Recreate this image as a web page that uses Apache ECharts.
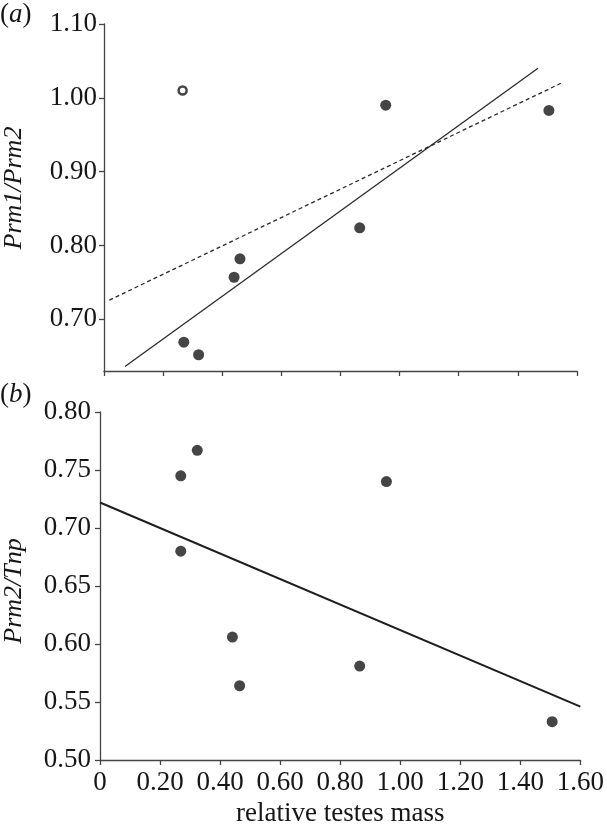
<!DOCTYPE html>
<html>
<head>
<meta charset="utf-8">
<title>Prm ratios vs relative testes mass</title>
<script src="https://cdn.jsdelivr.net/npm/echarts@6/dist/echarts.min.js"></script>
<style>
  html, body { margin: 0; padding: 0; background: #fff; }
  #chart { width: 607px; height: 828px; }
</style>
</head>
<body>
<div id="chart"></div>
<script type="text/javascript">
// panel (a): Prm1/Prm2 against relative testes mass
var massA = [0.27, 0.32, 0.44, 0.46, 0.865, 0.953, 1.505];
var ratioA = [0.669, 0.652, 0.757, 0.782, 0.824, 0.990, 0.983];
var outlierA = [[0.266, 1.010]];            // open circle
var fitAllA = [[0.071, 0.636], [1.468, 1.040]];   // solid line
var fitOutA = [[0.018, 0.726], [1.547, 1.020]];   // dashed line
var yTicksA = [0.70, 0.80, 0.90, 1.00, 1.10];

// panel (b): Prm2/Tnp against relative testes mass
var massB = [0.269, 0.324, 0.269, 0.441, 0.465, 0.865, 0.954, 1.506];
var ratioB = [0.745, 0.767, 0.680, 0.606, 0.564, 0.581, 0.740, 0.533];
var fitB = [[0, 0.722], [1.60, 0.546]];

function pairs(xs, ys) {
    var out = [];
    for (var i = 0; i < xs.length; i++) {
        out.push([xs[i], ys[i]]);
    }
    return out;
}

var FONT = '"Liberation Serif", "DejaVu Serif", serif';
var INK = '#161616';
var AXIS = '#444';
var FS = 27;

function fmt(v) {
    return v === 0 ? '0' : v.toFixed(2);
}

var chart = echarts.init(document.getElementById('chart'));
var option = {
    animation: false,
    backgroundColor: '#fff',
    textStyle: { fontFamily: FONT, color: INK },
    grid: [
        { left: 104, right: 30, top: 24, height: 347 },
        { left: 100, right: 23, top: 412, height: 356 }
    ],
    xAxis: [
        {
            gridIndex: 0, type: 'value', min: 0, max: 1.6, interval: 0.2,
            axisLine: { lineStyle: { color: AXIS, width: 1.3 } },
            axisTick: { show: true, length: 5, lineStyle: { color: AXIS, width: 1.3 } },
            axisLabel: { show: false },
            splitLine: { show: false }
        },
        {
            gridIndex: 1, type: 'value', min: 0, max: 1.6, interval: 0.2,
            name: 'relative testes mass', nameLocation: 'middle', nameGap: 40,
            nameTextStyle: { fontFamily: FONT, fontSize: FS, color: INK },
            axisLine: { lineStyle: { color: AXIS, width: 1.3 } },
            axisTick: { show: true, length: 5, lineStyle: { color: AXIS, width: 1.3 } },
            axisLabel: { fontFamily: FONT, fontSize: FS, color: INK, margin: 9,
                formatter: fmt },
            splitLine: { show: false }
        }
    ],
    yAxis: [
        {
            gridIndex: 0, type: 'value', min: 0.63, max: 1.10,
            axisLine: { show: true, lineStyle: { color: AXIS, width: 1.3 } },
            axisTick: { show: true, length: 5, customValues: yTicksA,
                lineStyle: { color: AXIS, width: 1.3 } },
            axisLabel: { fontFamily: FONT, fontSize: FS, color: INK, margin: 7,
                customValues: yTicksA, formatter: fmt },
            splitLine: { show: false }
        },
        {
            gridIndex: 1, type: 'value', min: 0.5, max: 0.8, interval: 0.05,
            axisLine: { show: true, lineStyle: { color: AXIS, width: 1.3 } },
            axisTick: { show: true, length: 5, lineStyle: { color: AXIS, width: 1.3 } },
            axisLabel: { fontFamily: FONT, fontSize: FS, color: INK, margin: 9,
                formatter: fmt },
            splitLine: { show: false }
        }
    ],
    series: [
        {
            type: 'line', xAxisIndex: 0, yAxisIndex: 0, data: fitAllA,
            showSymbol: false, lineStyle: { color: '#2a2a2a', width: 1.3 }, z: 1
        },
        {
            type: 'line', xAxisIndex: 0, yAxisIndex: 0, data: fitOutA,
            showSymbol: false, lineStyle: { color: '#2a2a2a', width: 1.3, type: [4, 3] }, z: 1
        },
        {
            type: 'scatter', xAxisIndex: 0, yAxisIndex: 0, data: pairs(massA, ratioA),
            symbol: 'circle', symbolSize: 11, itemStyle: { color: INK }, z: 3
        },
        {
            type: 'scatter', xAxisIndex: 0, yAxisIndex: 0, data: outlierA,
            symbol: 'circle', symbolSize: 8,
            itemStyle: { color: '#fff', borderColor: INK, borderWidth: 2.5 }, z: 3
        },
        {
            type: 'line', xAxisIndex: 1, yAxisIndex: 1, data: fitB,
            showSymbol: false, lineStyle: { color: '#1e1e1e', width: 2 }, z: 1
        },
        {
            type: 'scatter', xAxisIndex: 1, yAxisIndex: 1, data: pairs(massB, ratioB),
            symbol: 'circle', symbolSize: 11, itemStyle: { color: INK }, z: 3
        }
    ],
    graphic: [
        {
            type: 'text', left: 0, top: 1,
            style: { text: '{p|(}{i|a}{p|)}', rich: {
                p: { fontFamily: FONT, fontSize: 27, fill: INK },
                i: { fontFamily: FONT, fontSize: 27, fontStyle: 'italic', fill: INK }
            } }
        },
        {
            type: 'text', left: 0, top: 381,
            style: { text: '{p|(}{i|b}{p|)}', rich: {
                p: { fontFamily: FONT, fontSize: 27, fill: INK },
                i: { fontFamily: FONT, fontSize: 27, fontStyle: 'italic', fill: INK }
            } }
        },
        {
            type: 'text', x: 14, y: 188, rotation: Math.PI / 2,
            style: { text: 'Prm1/Prm2', fontFamily: FONT, fontSize: 26,
                fontStyle: 'italic', fill: INK, align: 'center', verticalAlign: 'middle' }
        },
        {
            type: 'text', x: 14, y: 591, rotation: Math.PI / 2,
            style: { text: 'Prm2/Tnp', fontFamily: FONT, fontSize: 26,
                fontStyle: 'italic', fill: INK, align: 'center', verticalAlign: 'middle' }
        }
    ]
};
chart.setOption(option);
</script>
</body>
</html>
